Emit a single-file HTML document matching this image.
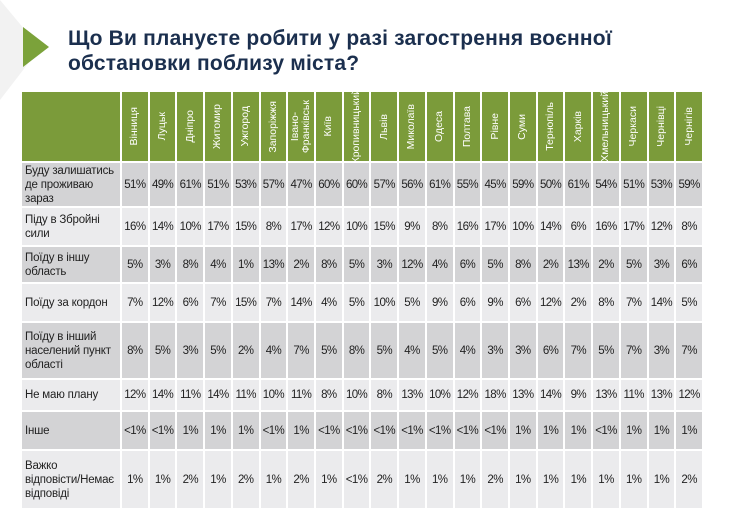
<!DOCTYPE html>
<html><head><meta charset="utf-8">
<style>
body{margin:0;width:740px;height:523px;background:#fff;overflow:hidden;position:relative;font-family:"Liberation Sans","DejaVu Sans",sans-serif}
.title{position:absolute;left:68px;top:26px;font-size:21px;font-weight:bold;color:#1b2f4e;line-height:25px;letter-spacing:0.2px}
.c{position:absolute;box-sizing:border-box;display:flex;align-items:center;justify-content:center;font-size:11.5px;color:#222;letter-spacing:-0.6px}
.h{background:#7b9b3a;color:#fff;font-size:10.5px;letter-spacing:0}
.h span{writing-mode:vertical-rl;transform:rotate(180deg);white-space:nowrap;line-height:11px;text-align:center}
.lab{justify-content:flex-start;padding-left:3px;font-size:11.5px;line-height:14px;color:#222;letter-spacing:-0.2px}
</style></head><body>
<svg width="740" height="110" style="position:absolute;left:0;top:0">
<polygon points="0,0 40,48 0,100" fill="#f2f2f2"/>
<polygon points="23,27 49,47 23,67" fill="#7ba23a"/>
</svg>
<div class="title">Що Ви плануєте робити у разі загострення воєнної<br>обстановки поблизу міста?</div>
<div id="tbl"></div>
<script>
const cities=["Вінниця","Луцьк","Дніпро","Житомир","Ужгород","Запоріжжя","Івано-<br>Франківськ","Київ","Кропивницький","Львів","Миколаїв","Одеса","Полтава","Рівне","Суми","Тернопіль","Харків","Хмельницький","Черкаси","Чернівці","Чернігів"];
const rowLabels=["Буду залишатись<br>де проживаю<br>зараз","Піду в Збройні<br>сили","Поїду в іншу<br>область","Поїду за кордон","Поїду в інший<br>населений пункт<br>області","Не маю плану","Інше","Важко<br>відповісти/Немає<br>відповіді"];
const stay=["51%","49%","61%","51%","53%","57%","47%","60%","60%","57%","56%","61%","55%","45%","59%","50%","61%","54%","51%","53%","59%"];
const army=["16%","14%","10%","17%","15%","8%","17%","12%","10%","15%","9%","8%","16%","17%","10%","14%","6%","16%","17%","12%","8%"];
const otherRegion=["5%","3%","8%","4%","1%","13%","2%","8%","5%","3%","12%","4%","6%","5%","8%","2%","13%","2%","5%","3%","6%"];
const abroad=["7%","12%","6%","7%","15%","7%","14%","4%","5%","10%","5%","9%","6%","9%","6%","12%","2%","8%","7%","14%","5%"];
const otherTown=["8%","5%","3%","5%","2%","4%","7%","5%","8%","5%","4%","5%","4%","3%","3%","6%","7%","5%","7%","3%","7%"];
const noPlan=["12%","14%","11%","14%","11%","10%","11%","8%","10%","8%","13%","10%","12%","18%","13%","14%","9%","13%","11%","13%","12%"];
const other=["<1%","<1%","1%","1%","1%","<1%","1%","<1%","<1%","<1%","<1%","<1%","<1%","<1%","1%","1%","1%","<1%","1%","1%","1%"];
const hard=["1%","1%","2%","1%","2%","1%","2%","1%","<1%","2%","1%","1%","1%","2%","1%","1%","1%","1%","1%","1%","2%"];
const series=[stay,army,otherRegion,abroad,otherTown,noPlan,other,hard];
const rowEdges=[92,163,208,247,284,323,380,412,451,510];
const tbl=document.getElementById('tbl');
const x0=22,lw=100,x1=704,cw=(x1-x0-lw)/cities.length,gap=2;
function cell(x,y,w,h,cls,html){const d=document.createElement('div');d.className='c '+cls;d.style.left=x+'px';d.style.top=y+'px';d.style.width=w+'px';d.style.height=h+'px';d.innerHTML=html;tbl.appendChild(d);return d;}
const hh=rowEdges[1]-rowEdges[0]-gap;
let e=cell(x0,rowEdges[0],lw-gap,hh,'h','');


cities.forEach((c,i)=>{
  const d=cell(x0+lw+i*cw,rowEdges[0],cw-gap,hh,'h','<span>'+c+'</span>');
  
  
});
series.forEach((vals,r)=>{
  const y=rowEdges[r+1],h=rowEdges[r+2]-y-gap;
  const bg=r%2===0?'#d3d3d5':'#ebebed';
  const l=cell(x0,y,lw-gap,h,'lab',rowLabels[r]);l.style.background=bg;
  
  
  vals.forEach((v,i)=>{
    const d=cell(x0+lw+i*cw,y,cw-gap,h,'',v.replace('<','&lt;'));d.style.background=bg;
    
    
  });
});
</script>
</body></html>
